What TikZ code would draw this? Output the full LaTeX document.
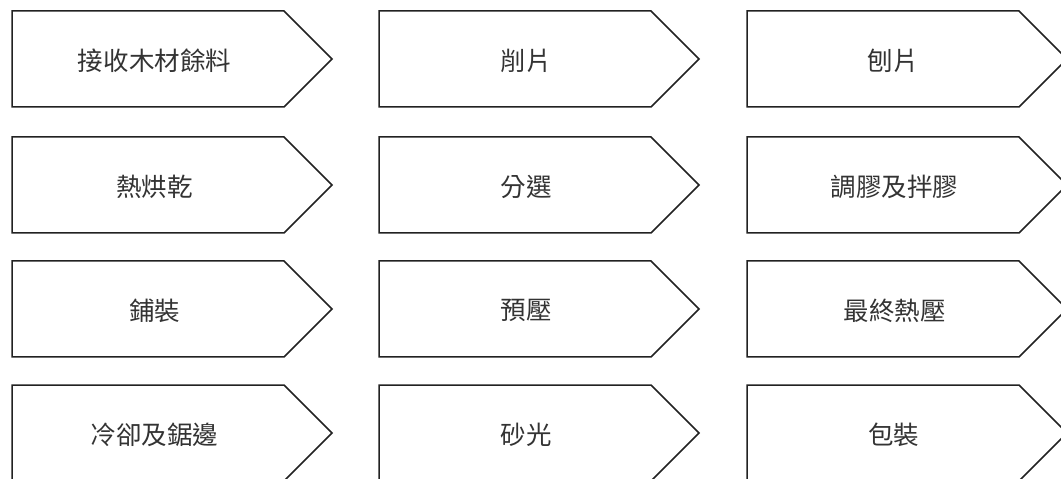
\documentclass[tikz,border=0pt]{standalone}
\usepackage{fontspec}
\newfontfamily\cjk{Noto Sans CJK TC}
\definecolor{lineclr}{HTML}{222222}
\definecolor{txtclr}{HTML}{333333}
\tikzset{
  boxline/.style={draw=lineclr, line width=1.5bp, line join=miter, fill=white},
  lbl/.style={font=\cjk\fontsize{25.5bp}{30bp}\selectfont, text=txtclr, inner sep=0pt, anchor=center}
}
\newcommand\stepshape[5]{%
  % #1 left x, #2 top y, #3 name, #4 text x, #5 text
  \draw[boxline] (#1,#2) -- ++(272,0) -- ++(48,48) -- ++(-48,48) -- ++(-272,0) -- cycle;
  \node[lbl] (#3) at (#4,#2+49.5) {#5};
}
\begin{document}
\begin{tikzpicture}[x=1bp,y=-1bp]
\useasboundingbox (0,0) rectangle (1061,479);
\fill[white] (0,0) rectangle (1061,479);
\stepshape{12}{11}{s1}{154.5}{接收木材餘料}
\stepshape{379}{11}{s2}{526}{削片}
\stepshape{747}{11}{s3}{893}{刨片}
\stepshape{12}{137}{s4}{154.5}{熱烘乾}
\stepshape{379}{137}{s5}{526}{分選}
\stepshape{747}{137}{s6}{894.5}{調膠及拌膠}
\stepshape{12}{261}{s7}{154.5}{鋪裝}
\stepshape{379}{261}{s8}{526}{預壓}
\stepshape{747}{261}{s9}{894.5}{最終熱壓}
\stepshape{12}{385}{s10}{154.5}{冷卻及鋸邊}
\stepshape{379}{385}{s11}{526}{砂光}
\stepshape{747}{385}{s12}{893.5}{包裝}
\end{tikzpicture}
\end{document}
